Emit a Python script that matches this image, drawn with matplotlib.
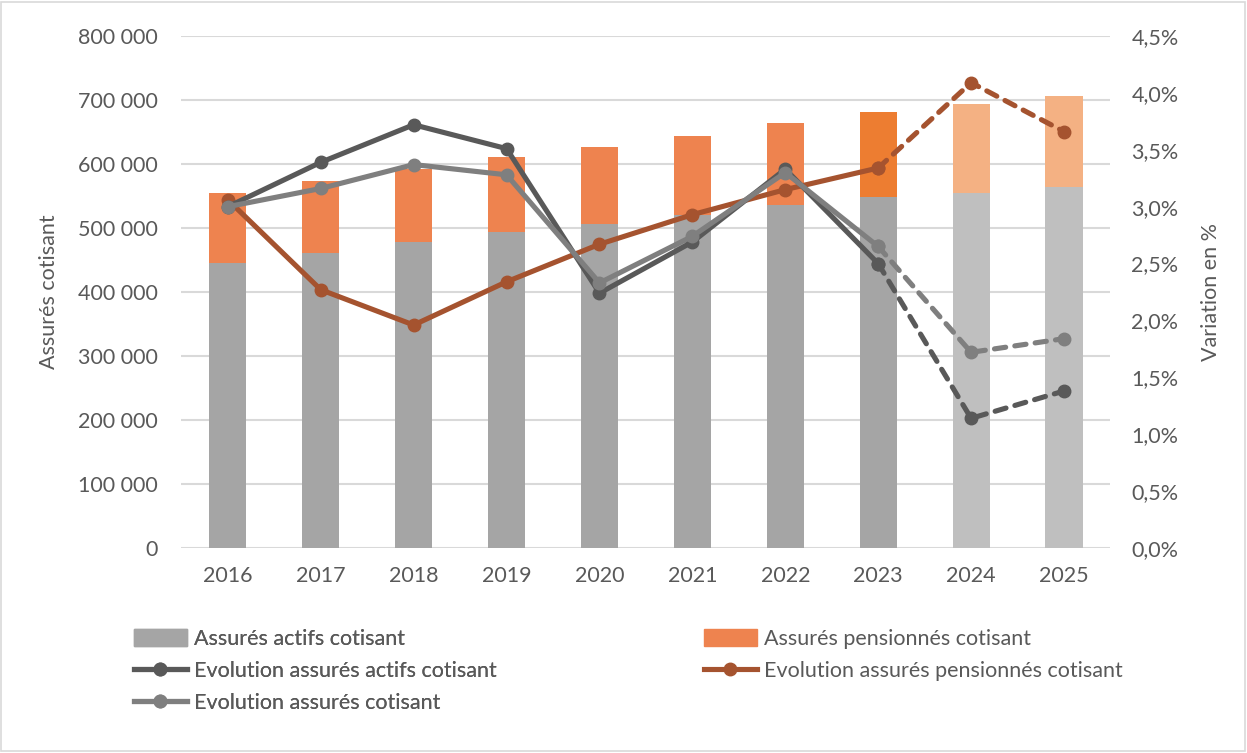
#!/usr/bin/env python3
"""
Assurés cotisants 2016-2025: stacked bars (actifs / pensionnés) on the left axis,
yearly variation in % on the right axis. 2024-2025 are projections.
"""

import matplotlib.pyplot as plt
from matplotlib.lines import Line2D
from matplotlib.patches import Patch, Rectangle
from matplotlib.ticker import FuncFormatter
import numpy as np

# Data
years = ["2016", "2017", "2018", "2019", "2020", "2021", "2022", "2023", "2024", "2025"]
actifs = [445000, 461000, 478000, 494000, 506000, 520000, 536000, 548000, 555000, 564000]
pensionnes = [110000, 112000, 114000, 117000, 120000, 123000, 128000, 133000, 138000, 142000]

evol_actifs = [3.00, 3.39, 3.72, 3.51, 2.24, 2.69, 3.33, 2.50, 1.14, 1.38]
evol_pensionnes = [3.06, 2.27, 1.96, 2.34, 2.67, 2.93, 3.15, 3.34, 4.09, 3.66]
evol_cotisant = [3.00, 3.16, 3.37, 3.28, 2.33, 2.74, 3.30, 2.65, 1.72, 1.84]

# Colours (last actual year slightly darker orange, projections lighter)
grey_bar = ["#A5A5A5"] * 8 + ["#BFBFBF"] * 2
orange_bar = ["#EE834F"] * 7 + ["#ED7D31"] + ["#F4B183"] * 2
C_ACTIFS = "#595959"
C_COTIS = "#7F7F7F"
C_PENS = "#A5532F"
TXT = "#595959"
GRID = "#D9D9D9"

LAST_ACTUAL = 7  # index of 2023
FS = 15.5


def fmt_thousands(v, pos):
    return f"{int(v):,}".replace(",", " ")


def fmt_pct(v, pos):
    return f"{v:.1f}%".replace(".", ",")


def main():
    plt.rcParams["font.family"] = ["Lato", "DejaVu Sans"]
    fig = plt.figure(figsize=(12.47, 7.53), dpi=100)
    ax = fig.add_axes([0.1455, 0.2722, 0.745, 0.680])

    x = np.arange(len(years))
    width = 0.4
    ax.bar(x, actifs, width, color=grey_bar, zorder=2)
    ax.bar(x, pensionnes, width, bottom=actifs, color=orange_bar, zorder=2)

    ax.set_xlim(-0.5, len(years) - 0.5)
    ax.set_ylim(0, 800000)
    ax.set_yticks(np.arange(0, 800001, 100000))
    ax.yaxis.set_major_formatter(FuncFormatter(fmt_thousands))
    ax.set_xticks(x)
    ax.set_xticklabels(years)
    ax.grid(axis="y", color=GRID, linewidth=1.5, zorder=0)
    for s in ax.spines.values():
        s.set_visible(False)
    ax.tick_params(axis="both", length=0, labelsize=FS, colors=TXT)
    ax.tick_params(axis="y", pad=17)
    ax.tick_params(axis="x", pad=13)
    ax.set_ylabel("Assurés cotisant", fontsize=FS, color=TXT, labelpad=14)

    # Variation lines on the right axis
    ax2 = ax.twinx()
    ax2.set_ylim(0, 4.5)
    ax2.set_yticks(np.arange(0, 4.51, 0.5))
    ax2.yaxis.set_major_formatter(FuncFormatter(fmt_pct))
    for s in ax2.spines.values():
        s.set_visible(False)
    ax2.tick_params(axis="y", length=0, labelsize=FS, colors=TXT, pad=15)
    ax2.set_ylabel("Variation en %", fontsize=FS, color=TXT, labelpad=16)

    lw, ms = 3.7, 9
    solid = x[:LAST_ACTUAL + 1]
    proj = x[LAST_ACTUAL:]
    for series, color in [(evol_pensionnes, C_PENS), (evol_actifs, C_ACTIFS), (evol_cotisant, C_COTIS)]:
        vals = np.array(series)
        ax2.plot(solid, vals[:LAST_ACTUAL + 1], color=color, lw=lw, marker="o", ms=ms,
                 solid_joinstyle="round", zorder=3)
        ax2.plot(proj, vals[LAST_ACTUAL:], color=color, lw=lw, marker="o", ms=ms,
                 linestyle=(0, (2.2, 1.8)), dash_capstyle="round", zorder=3)

    # Legend in two blocks below the plot
    h_act = Patch(color="#A5A5A5")
    h_pen = Patch(color="#EE834F")
    h_eact = Line2D([], [], color=C_ACTIFS, lw=lw, marker="o", ms=ms)
    h_epen = Line2D([], [], color=C_PENS, lw=lw, marker="o", ms=ms)
    h_ecot = Line2D([], [], color=C_COTIS, lw=lw, marker="o", ms=ms)
    leg_kw = dict(frameon=False, fontsize=FS, labelcolor=TXT, handlelength=2.45,
                  handleheight=0.8, handletextpad=0.35, labelspacing=0.55, borderpad=0,
                  borderaxespad=0, loc="upper left")
    leg1 = fig.legend([h_act, h_eact, h_ecot],
                      ["Assurés actifs cotisant", "Evolution assurés actifs cotisant",
                       "Evolution assurés cotisant"],
                      bbox_to_anchor=(134 / 1247, 1 - 629 / 753), **leg_kw)
    fig.legend([h_pen, h_epen],
               ["Assurés pensionnés cotisant", "Evolution assurés pensionnés cotisant"],
               bbox_to_anchor=(704 / 1247, 1 - 629 / 753), **leg_kw)
    fig.add_artist(leg1)

    # Chart area frame
    fig.add_artist(Rectangle((0.001, 0.003), 0.997, 0.995, transform=fig.transFigure,
                             fill=False, edgecolor=GRID, linewidth=1.2))

    fig.savefig("out.png", dpi=100)


if __name__ == "__main__":
    main()
